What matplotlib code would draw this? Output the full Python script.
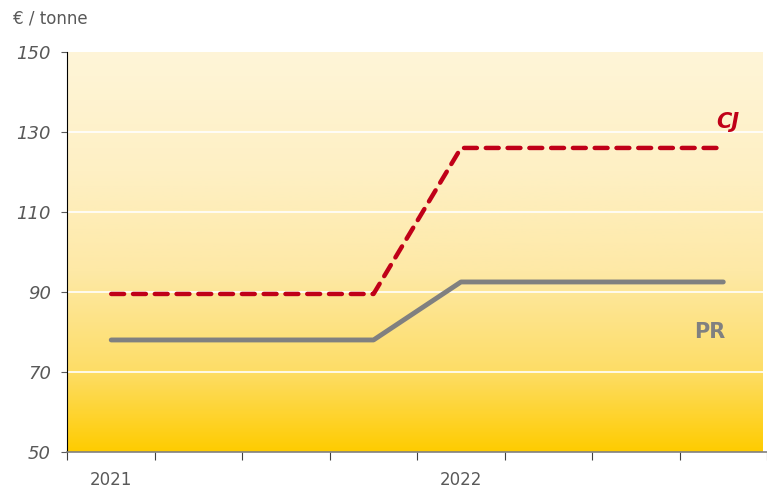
import numpy as np
import matplotlib.pyplot as plt
from matplotlib.colors import LinearSegmentedColormap

# quarters 2021 Q1 .. 2022 Q4
quarters = ['2021', '', '', '', '2022', '', '', '']
cj = [89.5, 89.5, 89.5, 89.5, 126, 126, 126, 126]
pr = [78, 78, 78, 78, 92.5, 92.5, 92.5, 92.5]

fig = plt.figure(figsize=(7.67, 4.90), dpi=100)
ax = fig.add_axes([0.088, 0.0776, 0.912, 0.8164])

x = np.arange(len(quarters))

# background gradient (light at top, gold at bottom)
cmap = LinearSegmentedColormap.from_list('bg', [
    (0.0, '#FFF5D8'), (0.3, '#FEF0C4'), (0.55, '#FEE9A6'),
    (0.8, '#FDDD66'), (1.0, '#FFCC00')])
grad = np.linspace(0, 1, 256).reshape(-1, 1)
ax.imshow(grad, aspect='auto', cmap=cmap, extent=[-0.5, 7.45, 50, 150],
          origin='upper', zorder=0)
ax.set_xlim(-0.5, 7.45)
ax.set_ylim(50, 150)

for v in [70, 90, 110, 130]:
    ax.axhline(v, color='white', lw=1.2, zorder=1)

ax.plot(x, cj, color='#C00018', lw=3.2, ls=(0, (2.9, 2.0)), zorder=3,
        solid_capstyle='round', dash_capstyle='round')
ax.plot(x, pr, color='#808080', lw=3.5, zorder=3, solid_capstyle='round')

ax.text(7.05, 132.5, 'CJ', color='#C00018', fontsize=15, fontweight='bold',
        fontstyle='italic', ha='center', va='center')
ax.text(6.85, 80, 'PR', color='#808080', fontsize=15, fontweight='bold',
        ha='center', va='center')

ax.set_yticks([50, 70, 90, 110, 130, 150])
ax.set_yticklabels(['50', '70', '90', '110', '130', '150'], fontstyle='italic',
                   color='#595959', fontsize=13)
ax.tick_params(axis='y', length=4, color='#595959', pad=8)

ax.set_xticks(np.arange(len(quarters) + 1) - 0.5, minor=False)
ax.set_xticklabels([])
ax.set_xticks(x, minor=True)
ax.set_xticklabels(quarters, minor=True, color='#595959', fontsize=12)
ax.tick_params(axis='x', which='major', length=6, color='#404040')
ax.tick_params(axis='x', which='minor', length=0, pad=14)

for s in ['top', 'right']:
    ax.spines[s].set_visible(False)
ax.spines['left'].set_color('black')
ax.spines['bottom'].set_color('#808080')
ax.spines['bottom'].set_linewidth(1.2)

fig.text(0.017, 0.963, '€ / tonne', color='#595959', fontsize=12,
         ha='left', va='center')

fig.savefig('out.png', dpi=100)
